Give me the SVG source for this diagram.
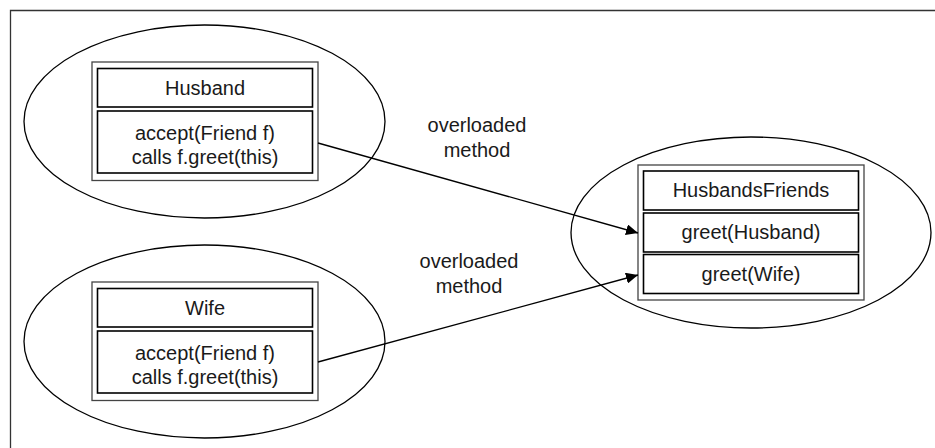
<svg xmlns="http://www.w3.org/2000/svg" width="935" height="448" viewBox="0 0 935 448">
<defs>
<marker id="arr" markerWidth="13" markerHeight="11" refX="12" refY="5.5" orient="auto" markerUnits="userSpaceOnUse">
<path d="M0,0 L12,5.5 L0,11 Z" fill="#000"/>
</marker>
</defs>
<style>
text{font-family:"Liberation Sans",Arial,sans-serif;font-size:20px;fill:#1a1a1a;text-anchor:middle}
.ell{fill:none;stroke:#000;stroke-width:1.3}
.outer{fill:#fff;stroke:#444;stroke-width:1.3}
.cell{fill:none;stroke:#000;stroke-width:1.6}
.conn{fill:none;stroke:#000;stroke-width:1.3}
</style>
<rect width="935" height="448" fill="#fff"/>
<path d="M10.5,460 V10.5 H940" fill="none" stroke="#333" stroke-width="1.3"/>
<g id="husband">
<ellipse class="ell" cx="204.5" cy="121.5" rx="180.5" ry="96.5"/>
<rect class="outer" x="92" y="62" width="226" height="118.5"/>
<rect class="cell" x="97.5" y="68.5" width="215" height="38.5"/>
<rect class="cell" x="97.5" y="111" width="215" height="62"/>
<text x="205" y="94.5">Husband</text>
<text x="205" y="140">accept(Friend f)</text>
<text x="205" y="163.5">calls f.greet(this)</text>
</g>
<g id="wife">
<ellipse class="ell" cx="204.5" cy="341.5" rx="180.5" ry="96.5"/>
<rect class="outer" x="92" y="282" width="226" height="118.5"/>
<rect class="cell" x="97.5" y="288.5" width="215" height="38.5"/>
<rect class="cell" x="97.5" y="331" width="215" height="62"/>
<text x="205" y="314.5">Wife</text>
<text x="205" y="360">accept(Friend f)</text>
<text x="205" y="383.5">calls f.greet(this)</text>
</g>
<g id="husbandsfriends">
<ellipse class="ell" cx="751" cy="232.5" rx="180" ry="95.5"/>
<rect class="outer" x="638" y="165" width="226" height="135"/>
<rect class="cell" x="643.5" y="171" width="215" height="39"/>
<rect class="cell" x="643.5" y="213" width="215" height="39"/>
<rect class="cell" x="643.5" y="254.5" width="215" height="39"/>
<text x="751" y="197">HusbandsFriends</text>
<text x="751" y="239">greet(Husband)</text>
<text x="751" y="281">greet(Wife)</text>
</g>
<g id="connectors">
<line class="conn" x1="318" y1="143" x2="638" y2="233" marker-end="url(#arr)"/>
<line class="conn" x1="318" y1="362" x2="638" y2="275" marker-end="url(#arr)"/>
<text x="477" y="132">overloaded</text>
<text x="477" y="157">method</text>
<text x="469" y="268">overloaded</text>
<text x="469" y="293">method</text>
</g>
</svg>
